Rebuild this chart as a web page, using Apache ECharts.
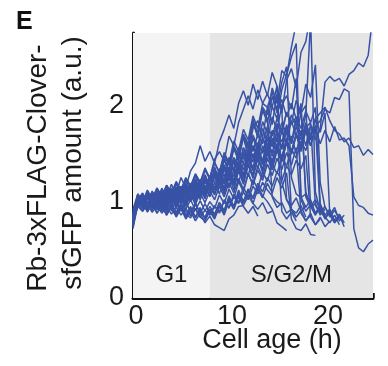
<!DOCTYPE html>
<html>
<head>
<meta charset="utf-8">
<script src="https://cdn.jsdelivr.net/npm/echarts@6/dist/echarts.min.js"></script>
<style>
html,body{margin:0;padding:0;background:#fff;}
#chart{width:388px;height:366px;}
</style>
</head>
<body>
<div id="chart"></div>
<script>
// Sampling interval of each trace (hours)
const sampleStepH = 0.5;
// Phase regions (h)
const phaseNames = ['G1', 'S/G2/M'];
const phaseBounds = [[0, 8], [8, 25]];
const xTickValues = [0, 5, 10, 15, 20, 25];
const xLabelValues = [0, 10, 20];
const yTickValues = [0, 0.5, 1, 1.5, 2, 2.5];
const yLabelValues = [0, 1, 2];

// Single-cell traces (a.u.), one value every 0.5 h starting at cell age 0
const tr01 = [0.80,1.04,0.96,1.08,0.98,1.10,1.00,1.13,1.02,1.15,1.04,1.19,1.08,1.24,1.12,1.28,1.16,1.36,1.22,1.46,1.31,1.57,1.42,1.70,1.55,1.86,1.66,1.98,1.90,2.18,2.02,2.36,2.30,2.60,2.85];
const tr02 = [0.74,1.00,1.06,0.94,1.08,0.97,0.93,1.07,1.12,0.99,1.15,1.03,1.18,1.04,1.20,1.08,1.26,1.12,1.34,1.20,1.46,1.30,1.55,1.66,1.48,1.76,1.84,1.66,1.98,1.80,2.12,1.92,2.26,2.38,2.18,2.55,2.66,2.95];
const tr03 = [0.85,1.02,1.08,0.97,1.10,1.01,1.14,1.04,1.18,1.08,1.25,1.14,1.32,1.40,1.58,1.42,1.52,1.40,1.62,1.75,1.90,1.76,2.02,2.15,2.00,2.22,2.06,2.25,2.10,2.34,2.20,1.95,1.02,0.92,0.88,0.96,0.84];
const tr04 = [0.78,0.98,1.03,0.91,1.05,0.95,1.06,0.96,1.09,0.98,1.11,1.00,1.14,1.02,1.17,1.05,1.20,1.08,1.26,1.12,1.32,1.18,1.42,1.27,1.50,1.34,1.58,1.42,1.66,1.50,1.74,1.56,1.80,1.62,1.86,1.68,1.90,2.90,1.10,0.90,0.84,0.78,0.86,0.76];
const tr05 = [0.82,1.03,0.95,1.06,0.96,1.07,0.97,1.08,0.98,1.10,1.00,1.12,1.02,1.15,1.03,1.17,1.06,1.14,1.20,1.08,1.26,1.12,1.32,1.18,1.38,1.24,1.46,1.30,1.52,1.36,1.58,1.42,1.62,1.68,1.50,1.74,1.58,1.80,1.64,1.75,2.24,2.30,2.25,2.28,2.20,2.32,2.36,2.44,2.40,2.52,2.95];
const tr06 = [0.80,0.99,1.05,0.93,1.03,0.92,1.02,0.91,1.05,0.95,1.08,0.96,1.11,0.99,1.15,1.03,1.17,1.07,1.22,1.10,1.28,1.16,1.34,1.20,1.40,1.27,1.47,1.33,1.53,1.38,1.60,1.44,1.66,1.50,1.70,1.52,1.74,1.58,1.78,1.84,1.96,1.92,2.08,2.06,2.17,2.14,0.72,0.52,0.48,0.56,0.60];
const tr07 = [0.84,1.05,0.96,1.08,0.97,1.09,0.98,0.94,1.07,0.96,1.09,0.98,1.12,1.00,1.15,1.04,1.19,1.08,1.26,1.14,1.32,1.20,1.38,1.25,1.44,1.32,1.50,1.38,1.56,1.42,1.60,1.46,1.64,1.50,1.70,1.54,1.74,1.58,1.76,1.60,1.74,1.62,1.78,1.64,1.66,1.58,1.05,0.96,0.94,0.88,0.86];
const tr08 = [0.88,1.02,1.09,0.98,1.11,1.00,1.12,1.01,1.14,1.03,1.16,1.05,1.18,1.07,1.22,1.10,1.25,1.13,1.30,1.18,1.35,1.22,1.41,1.28,1.47,1.34,1.54,1.40,1.61,1.47,1.67,1.54,1.73,1.60,1.78,1.64,1.82,1.68,1.86,1.92,1.98,1.84,1.74,1.70,1.62,1.66,1.56,1.58,1.48,1.54,1.49];
const tr09 = [0.76,1.01,0.92,1.04,0.94,1.05,0.95,1.07,0.96,1.09,0.98,1.11,1.00,1.14,1.02,1.16,1.05,1.20,1.08,1.26,1.14,1.33,1.19,1.41,1.26,1.50,1.34,1.58,1.42,1.66,1.52,1.74,1.60,1.84,1.68,1.92,2.00,0.95,0.86,0.94,0.82,0.90,0.78,0.84];
const tr10 = [0.90,1.06,0.98,0.93,1.04,0.92,1.01,0.89,0.99,0.87,0.97,0.85,0.95,0.84,0.94,0.82,0.92,0.86,0.99,0.90,1.06,0.95,1.12,1.00,1.12,0.98,0.92,0.99,0.88,0.90];
const tr11 = [0.72,0.97,1.01,0.90,0.99,0.88,0.97,0.86,0.95,0.84,0.93,0.82,0.90,0.80,0.88,0.78,0.85,0.76,0.73,0.70,0.82,0.86,0.95,0.96,1.06,0.98,1.13,1.04,1.19,1.09,1.25,1.14,1.30,0.82,0.72,0.70,0.77,0.66,0.65];
const tr12 = [0.86,1.04,0.95,1.06,0.96,1.07,0.97,1.09,0.99,1.11,1.00,1.14,1.03,1.17,1.06,1.21,1.10,1.26,1.14,1.34,1.21,1.42,1.29,1.50,1.37,1.58,1.45,1.66,1.53,1.70,1.76,0.90,0.82,0.89,0.80];
const tr13 = [0.79,1.02,1.06,0.96,1.05,0.95,1.04,1.09,0.99,1.11,1.01,1.15,1.04,1.19,1.07,1.23,1.12,1.29,1.18,1.37,1.25,1.46,1.33,1.56,1.43,1.66,1.52,1.76,1.62,1.88,1.74,2.00,2.10,1.96,2.28,1.05,0.94,1.02,0.88,0.96,0.84,0.88];
const tr14 = [0.83,1.00,1.06,0.95,1.06,0.96,1.05,0.94,1.04,0.93,1.03,0.92,1.02,0.91,1.01,0.90,1.00,0.93,1.07,0.98,1.13,1.03,1.21,1.10,1.29,1.18,1.37,1.25,1.45,1.33,1.53,1.41,1.61,1.49,1.69,1.57,1.78,1.64,1.86,1.72,1.92,0.86,0.78,0.86,0.74];
const tr15 = [0.81,1.03,0.94,1.04,0.93,1.03,0.92,1.02,0.91,1.01,0.90,1.00,0.89,0.99,0.88,0.98,0.87,0.96,0.88,1.02,0.93,1.08,0.99,1.15,1.05,1.23,1.13,1.31,1.21,1.39,1.29,1.47,1.37,1.55,1.45,1.63,1.53,1.70,1.78,0.92,0.83,0.90,0.80,0.87,0.78];
const tr16 = [0.87,1.07,0.98,1.10,1.00,1.12,1.02,1.15,1.05,1.18,1.08,1.22,1.12,1.27,1.16,1.33,1.23,1.41,1.30,1.51,1.40,1.63,1.52,1.75,1.64,1.89,1.76,2.02,2.12,1.98,2.20,1.20,1.02,0.96,1.04,0.90,0.96];
const tr17 = [0.77,0.99,1.04,0.93,1.06,0.96,1.08,0.97,1.09,0.99,1.11,1.00,1.13,1.02,1.16,1.05,1.19,1.09,1.23,1.13,1.28,1.18,1.33,1.23,1.38,1.28,1.44,1.34,1.50,1.40,1.56,1.46,1.63,1.52,1.70,1.59,1.77,1.82,0.96,0.88,0.95,0.84,0.91,0.82];
const tr18 = [0.92,1.08,0.99,0.94,1.04,0.95,0.90,1.00,0.91,0.86,0.96,0.87,0.83,0.93,0.84,0.80,0.90,0.82,0.95,0.86,1.01,0.92,1.05,0.95,0.88,0.95,0.85];
const tr19 = [0.80,1.05,0.96,1.07,0.98,1.09,1.00,1.11,1.02,1.14,1.05,1.17,1.08,1.22,1.11,1.27,1.15,1.33,1.22,1.43,1.32,1.55,1.43,1.67,1.55,1.81,1.68,1.95,1.82,2.09,1.96,2.24,2.40,1.25,1.08,1.04,1.08,0.95,1.02,0.92];
const tr20 = [0.85,1.01,1.07,0.97,1.08,0.99,1.09,1.00,1.11,1.02,1.13,1.04,1.16,1.07,1.19,1.10,1.23,1.14,1.29,1.19,1.36,1.26,1.43,1.33,1.52,1.41,1.61,1.50,1.71,1.59,1.81,1.70,1.93,1.81,2.05,1.92,2.22,2.08,2.42,1.20,0.94,0.86,0.94,0.80,0.86];
const tr21 = [0.89,1.04,0.96,0.91,1.01,0.92,1.02,0.93,1.03,0.94,1.05,0.95,1.07,0.97,1.09,0.99,1.11,1.02,1.16,1.05,1.20,1.09,1.24,1.13,1.29,1.17,1.33,1.22,1.39,1.27,1.45,1.33,1.51,1.38,1.56,0.88,0.80,0.88,0.76,0.82];
const tr22 = [0.83,1.08,1.00,1.11,1.02,1.14,1.05,1.17,1.08,1.21,1.12,1.25,1.16,1.29,1.20,1.35,1.24,1.44,1.52,1.42,1.68,1.58,1.82,1.96,2.10,1.96,2.16,2.02,1.98,2.14,1.92,2.06,1.88,2.02,1.86,1.96,1.10,0.96,0.88,0.95,0.84];
const tr23 = [0.75,0.98,0.90,1.00,0.91,1.01,0.92,0.88,0.98,0.89,0.99,0.90,0.86,0.97,0.88,0.84,0.95,0.87,0.99,0.91,1.04,0.94,1.09,0.99,1.13,1.03,1.16,1.06,1.00,0.92,0.78,0.74,0.70];
const tr24 = [0.84,1.02,1.08,0.97,1.09,1.00,1.10,1.01,1.12,1.03,1.14,1.05,1.17,1.08,1.20,1.12,1.24,1.30,1.22,1.37,1.42,1.33,1.49,1.40,1.55,1.45,1.61,1.51,1.67,1.57,1.72,1.62,1.78,0.92,0.84,0.91,0.80,0.86];
const tr25 = [0.78,0.96,1.00,0.89,0.98,0.88,0.96,0.86,0.95,0.85,0.94,0.84,0.93,0.83,0.92,0.82,0.91,0.84,0.96,0.88,1.02,0.93,1.07,0.98,1.13,1.04,1.19,1.10,1.25,1.16,1.31,1.22,1.37,1.28,1.43,1.34,1.48,0.84,0.76,0.84,0.74,0.80];
const tr26 = [0.81,1.04,0.95,1.05,0.96,1.07,0.98,1.09,1.00,1.12,1.02,1.15,1.05,1.18,1.09,1.22,1.12,1.27,1.18,1.35,1.25,1.45,1.34,1.56,1.45,1.69,1.57,1.83,1.71,1.99,1.86,2.16,2.32,2.50,2.64,1.02,0.90,0.97,0.86];
const tr27 = [0.83,1.01,1.07,0.99,1.10,1.01,1.12,1.03,1.14,1.05,1.16,1.07,1.19,1.10,1.23,1.13,1.27,1.20,1.34,1.26,1.42,1.34,1.52,1.44,1.62,1.52,1.70,1.60,1.78,1.68,1.86,1.74,1.92,1.80,1.88,1.76,1.94,1.82,1.98,0.98,0.86,0.92,0.80];
const tr28 = [0.79,0.95,0.90,0.97,0.89,0.96,0.88,0.95,0.87,0.94,0.86,0.93,0.85,0.92,0.84,0.91,0.86,0.95,0.90,1.00,0.94,1.05,0.98,1.10,1.02,1.16,1.08,1.20,1.12,1.06,1.00,0.96];
const tr29 = [0.86,1.03,0.97,1.06,0.99,1.08,1.00,1.10,1.02,1.13,1.05,1.16,1.08,1.20,1.11,1.25,1.17,1.32,1.22,1.38,1.28,1.45,1.34,1.52,1.42,1.58,1.48,1.66,1.55,1.74,1.62,1.82,1.70,1.90,1.78,2.02,1.05,0.94,0.98,0.86,0.92];
const tr30 = [0.82,1.06,0.99,1.12,1.03,1.14,1.06,1.17,1.09,1.20,1.12,1.24,1.16,1.28,1.20,1.33,1.25,1.40,1.30,1.48,1.38,1.58,1.48,1.70,1.60,1.82,1.72,1.96,1.86,1.05,0.94,0.99,0.88,0.92,0.84];

const traces = [tr01,tr02,tr03,tr04,tr05,tr06,tr07,tr08,tr09,tr10,tr11,tr12,tr13,tr14,tr15,
                tr16,tr17,tr18,tr19,tr20,tr21,tr22,tr23,tr24,tr25,tr26,tr27,tr28,tr29,tr30];

const FONT = '"Liberation Sans", Arial, Helvetica, sans-serif';
const LINE_COLOR = '#3853a6';

const chart = echarts.init(document.getElementById('chart'), null, {renderer: 'canvas'});

const lineSeries = traces.map((vals, k) => ({
  type: 'line',
  name: 'cell' + (k + 1),
  data: vals.map((v, i) => [i * sampleStepH, v]),
  showSymbol: false,
  symbol: 'none',
  silent: true,
  z: 3,
  clip: true,
  lineStyle: {color: LINE_COLOR, width: 1.5},
  animation: false
}));

const bgSeries = {
  type: 'line',
  data: [],
  silent: true,
  z: 1,
  markArea: {
    silent: true,
    z: 1,
    data: [
      [{xAxis: phaseBounds[0][0], yAxis: 0, name: phaseNames[0], itemStyle: {color: '#f4f4f4'}}, {xAxis: phaseBounds[0][1], yAxis: 2.75}],
      [{xAxis: phaseBounds[1][0], yAxis: 0, name: phaseNames[1], itemStyle: {color: '#e5e5e5'}}, {xAxis: phaseBounds[1][1], yAxis: 2.75}]
    ],
    label: {
      show: true,
      position: 'insideBottom',
      distance: 11,
      color: '#1a1a1a',
      fontSize: 24,
      fontFamily: FONT
    }
  }
};

chart.setOption({
  animation: false,
  backgroundColor: '#ffffff',
  grid: {left: 133, right: 15, top: 33, bottom: 68, containLabel: false},
  xAxis: {
    type: 'value',
    min: 0, max: 25, interval: 5,
    axisLine: {show: true, onZero: false, lineStyle: {color: '#111', width: 3}},
    axisTick: {show: true, inside: true, length: 5, customValues: xTickValues, lineStyle: {color: '#111', width: 2.5}},
    axisLabel: {show: true, customValues: xLabelValues, margin: 5, color: '#1a1a1a', fontSize: 27, fontFamily: FONT, padding: [0, 0, 0, 6]},
    splitLine: {show: false}
  },
  yAxis: {
    type: 'value',
    min: 0, max: 2.75, interval: 0.5,
    axisLine: {show: true, onZero: false, lineStyle: {color: '#111', width: 3}},
    axisTick: {show: true, inside: true, length: 5, customValues: yTickValues, lineStyle: {color: '#111', width: 2.5}},
    axisLabel: {show: true, customValues: yLabelValues, margin: 9, color: '#1a1a1a', fontSize: 27, fontFamily: FONT},
    splitLine: {show: false}
  },
  graphic: [
    {type: 'text', left: 16, top: 10, style: {text: 'E', font: 'bold 25px ' + FONT, fill: '#111'}},
    {type: 'text', x: 38, y: 168, rotation: Math.PI / 2,
      style: {text: 'Rb-3xFLAG-Clover-', font: '28px ' + FONT, fill: '#1a1a1a', align: 'center', verticalAlign: 'middle'}},
    {type: 'text', x: 73, y: 163, rotation: Math.PI / 2,
      style: {text: 'sfGFP amount (a.u.)', font: '28px ' + FONT, fill: '#1a1a1a', align: 'center', verticalAlign: 'middle'}},
    {type: 'text', x: 272, y: 341,
      style: {text: 'Cell age (h)', font: '27px ' + FONT, fill: '#1a1a1a', align: 'center', verticalAlign: 'middle'}}
  ],
  series: [bgSeries].concat(lineSeries)
});
</script>
</body>
</html>
